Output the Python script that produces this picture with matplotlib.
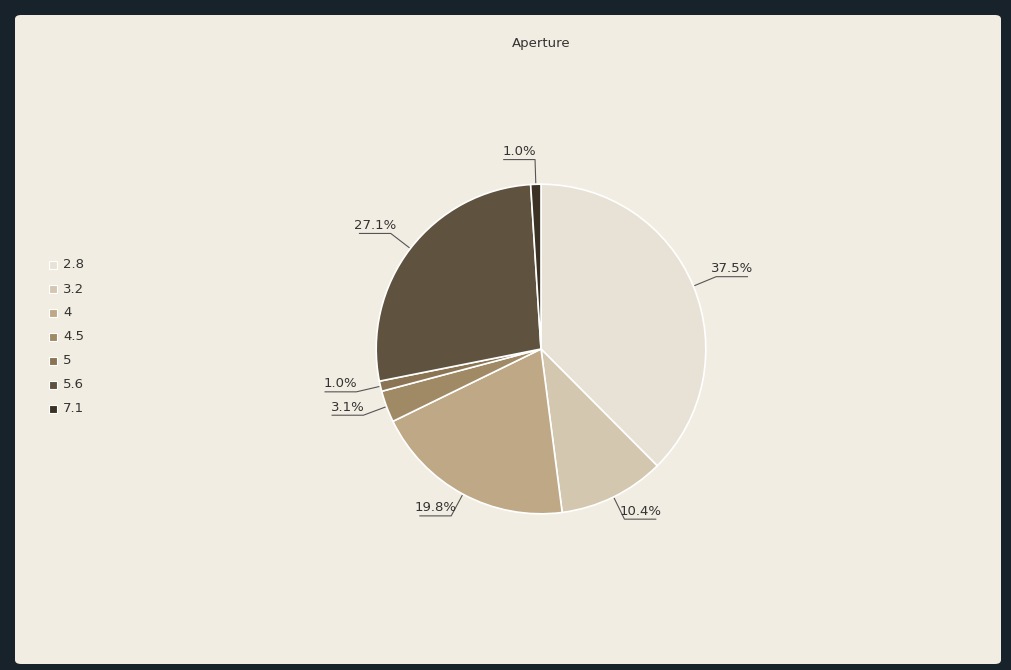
import numpy as np
import matplotlib.pyplot as plt
from matplotlib.patches import FancyBboxPatch

labels = ["2.8", "3.2", "4", "4.5", "5", "5.6", "7.1"]
values = [37.5, 10.4, 19.8, 3.1, 1.0, 27.1, 1.0]
colors = ["#E8E2D6", "#D4C7B0", "#BEA886", "#A08A66", "#8A7454", "#5F5340", "#3B3225"]

W, H = 1012, 670
fig = plt.figure(figsize=(W / 100, H / 100), dpi=100, facecolor="#17222B")
panel = FancyBboxPatch((15 / W, 6 / H), 986 / W, 649 / H, boxstyle="round,pad=0,rounding_size=0.006",
                       transform=fig.transFigure, facecolor="#F2EDE2", edgecolor="none", zorder=-10)
fig.patches.append(panel)

cx, cy, r = 541, 349, 206
ax = fig.add_axes([(cx - r) / W, (H - cy - r) / H, 2 * r / W, 2 * r / H])
ax.set_zorder(5)
ax.set_xlim(-1, 1)
ax.set_ylim(-1, 1)
ax.axis("off")

wedges, _ = ax.pie(values, colors=colors, startangle=90, counterclock=False, radius=1,
                   wedgeprops=dict(edgecolor="white", linewidth=1.2))

for w, v in zip(wedges, values):
    ang = np.deg2rad((w.theta1 + w.theta2) / 2)
    x0, y0 = 1.01 * np.cos(ang), 1.01 * np.sin(ang)
    x1, y1 = 1.15 * np.cos(ang), 1.15 * np.sin(ang)
    side = 1 if np.cos(ang) >= 0 else -1
    x2 = x1 + side * 0.19
    ax.plot([x0, x1, x2], [y0, y1, y1], color="#555555", lw=0.8, clip_on=False)
    ax.text((x1 + x2) / 2, y1 + 0.01, f"{v:.1f}%", ha="center", va="bottom",
            fontsize=9.5, color="#333333", clip_on=False)

fig.text(cx / W, 1 - 44 / H, "Aperture", ha="center", va="center", fontsize=9.5, color="#333333")

for i, (lab, c) in enumerate(zip(labels, colors)):
    y = 1 - (265 + 24 * i) / H
    fig.patches.append(plt.Rectangle((49 / W, y - 4 / H), 8 / W, 8 / H, transform=fig.transFigure,
                                     facecolor=c, edgecolor="white", linewidth=0.8))
    fig.text(63 / W, y, lab, ha="left", va="center", fontsize=9.5, color="#333333")

fig.savefig("out.png", dpi=100, facecolor=fig.get_facecolor())
